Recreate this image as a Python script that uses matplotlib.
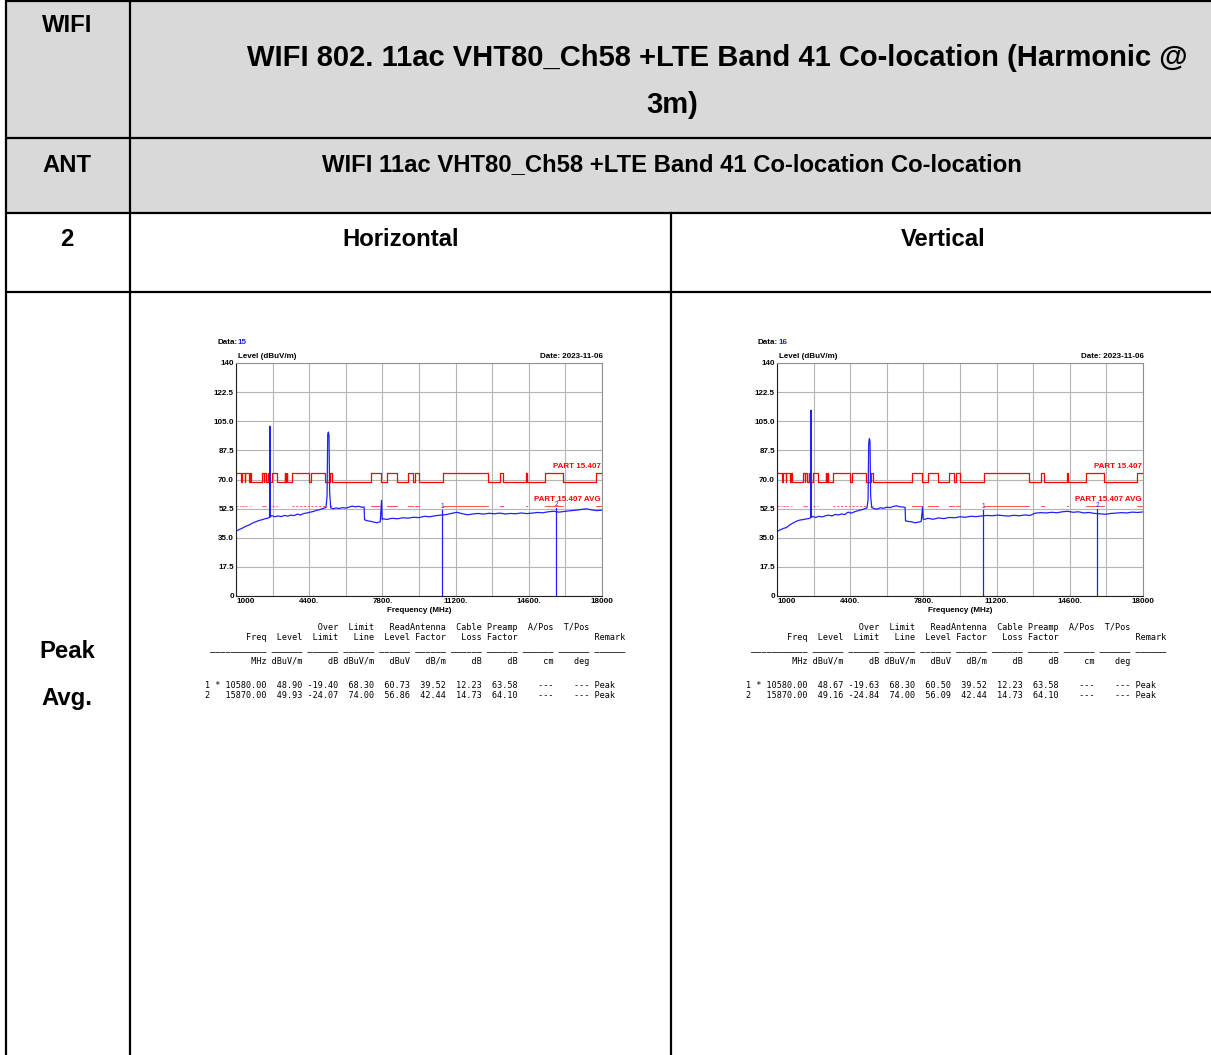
import matplotlib
matplotlib.use("Agg")
import matplotlib.pyplot as plt
import numpy as np

plt.rcParams['font.family'] = ['Liberation Sans', 'DejaVu Sans']

# ---- table text ----
title_line1 = "WIFI 802. 11ac VHT80_Ch58 +LTE Band 41 Co-location (Harmonic @"
title_line2 = "3m)"
subtitle = "WIFI 11ac VHT80_Ch58 +LTE Band 41 Co-location Co-location"
row_labels = ["WIFI", "ANT", "2"]
pol_labels = ["Horizontal", "Vertical"]
det_labels = ["Peak", "Avg."]

# ---- spectrum traces (MHz, dBuV/m) ----
freq = [1000, 1150, 1300, 1450, 1600, 1750, 1900, 2050, 2200, 2350, 2500, 2560,
        2578, 2596, 2650, 2800, 2950, 3100, 3250, 3400, 3550, 3700, 3850, 4000,
        4150, 4300, 4450, 4600, 4750, 4900, 5050, 5180, 5230, 5260, 5290, 5320,
        5350, 5400, 5500, 5650, 5800, 5950, 6100, 6250, 6400, 6550, 6700, 6850,
        6950, 6970, 7100, 7250, 7400, 7550, 7700, 7760, 7790, 7850, 8000, 8250,
        8500, 8750, 9000, 9250, 9500, 9750, 10000, 10250, 10500, 10750, 11000,
        11250, 11500, 11750, 12000, 12250, 12500, 12750, 13000, 13250, 13500,
        13750, 14000, 14250, 14500, 14750, 15000, 15250, 15500, 15750, 16000,
        16250, 16500, 16750, 17000, 17250, 17500, 17750, 18000]
level_h = [38.9, 40.0, 40.8, 41.9, 42.6, 43.7, 44.5, 45.3, 45.8, 46.4, 46.9, 47.2,
           102.0, 47.5, 48.3, 47.6, 48.1, 47.7, 48.4, 48.0, 48.6, 48.3, 49.2, 48.7,
           49.6, 49.9, 50.4, 50.8, 51.5, 51.9, 52.6, 53.2, 60.0, 97.0, 98.5, 96.5,
           62.0, 53.0, 52.4, 52.9, 52.6, 53.1, 52.8, 53.4, 54.0, 53.6, 53.9, 53.3,
           53.5, 45.8, 45.2, 44.9, 44.4, 44.0, 44.6, 57.5, 46.0, 46.4, 46.0, 46.7,
           46.4, 47.0, 46.8, 47.3, 47.1, 47.9, 47.6, 48.2, 48.6, 48.9, 49.6,
           50.3, 49.5, 48.8, 49.3, 49.6, 49.2, 49.7, 49.4, 49.8, 49.3,
           49.6, 49.4, 49.9, 49.5, 49.8, 50.2, 50.0, 50.6, 50.9, 50.4,
           50.8, 51.2, 51.5, 51.9, 52.4, 51.8, 51.3, 51.6]
level_v = [38.7, 39.8, 40.6, 41.2, 42.8, 43.9, 44.9, 45.6, 45.9, 46.3, 46.6, 47.0,
           111.6, 47.3, 47.8, 47.2, 47.9, 47.5, 48.2, 48.6, 48.1, 49.0, 48.7, 49.3,
           48.9, 50.4, 49.8, 50.6, 51.2, 51.7, 52.3, 53.0, 58.0, 92.0, 94.5, 93.0,
           60.0, 53.1, 52.6, 52.2, 53.0, 52.7, 53.4, 53.1, 53.8, 54.2, 53.6, 53.5,
           53.2, 45.2, 44.8, 44.6, 44.0, 44.3, 44.8, 53.5, 46.2, 46.0, 46.7, 46.1,
           46.9, 46.5, 47.2, 47.0, 47.6, 47.3, 47.9, 47.7, 48.1, 48.4, 48.2,
           48.6, 48.3, 48.0, 48.5, 48.2, 48.7, 48.4, 49.8, 50.1, 49.9,
           50.3, 50.0, 50.6, 50.9, 50.3, 50.6, 49.9, 50.2, 49.6, 49.4,
           49.1, 49.6, 49.8, 50.1, 49.9, 50.4, 50.2, 50.5]

# restricted bands (MHz) -> 74 dBuV/m peak / 54 dBuV/m avg, else 68.3
bands = [(960, 1240), (1300, 1427), (1435, 1626.5), (1660, 1710), (2200, 2300),
         (2310, 2390), (2483.5, 2500), (2690, 2900), (3260, 3267), (3332, 3339),
         (3345.8, 3358), (3600, 4400), (4500, 5150), (5350, 5460), (7250, 7750),
         (8025, 8500), (9000, 9200), (9300, 9500), (10600, 12700), (13250, 13400),
         (14470, 14500), (15350, 16200), (17700, 21400)]
lim_high, lim_low, lim_avg = 74.0, 68.3, 54.0

# marker tables
hdr1 = ["", "", "Over", "Limit", "Read", "Antenna", "Cable", "Preamp", "A/Pos", "T/Pos"]
hdr2 = ["Freq", "Level", "Limit", "Line", "Level", "Factor", "Loss", "Factor", "", ""]
units = ["MHz", "dBuV/m", "dB", "dBuV/m", "dBuV", "dB/m", "dB", "dB", "cm", "deg"]
mk_freq = [10580.00, 15870.00]
mk_level_h = [48.90, 49.93]
mk_over_h = [-19.40, -24.07]
mk_read_h = [60.73, 56.86]
mk_level_v = [48.67, 49.16]
mk_over_v = [-19.63, -24.84]
mk_read_v = [60.50, 56.09]
mk_limit = [68.30, 74.00]
mk_ant = [39.52, 42.44]
mk_cable = [12.23, 14.73]
mk_preamp = [63.58, 64.10]

charts = [
    dict(data_no="15", level=level_h, mk_level=mk_level_h, mk_over=mk_over_h,
         mk_read=mk_read_h, x0=0),
    dict(data_no="16", level=level_v, mk_level=mk_level_v, mk_over=mk_over_v,
         mk_read=mk_read_v, x0=541),
]

W, H = 1211, 1055
fig = plt.figure(figsize=(W / 100, H / 100), dpi=100)
bg = fig.add_axes([0, 0, 1, 1])
bg.set_xlim(0, W)
bg.set_ylim(H, 0)
bg.axis('off')

# grey header rows
bg.fill_between([6, W], 1, 213, color='#d9d9d9', lw=0)
lw_t = 1.6
for y in [1, 138, 213, 292]:
    bg.plot([6, W], [y, y], color='black', lw=lw_t, solid_capstyle='butt')
bg.plot([6, 6], [0, H], color='black', lw=lw_t)
bg.plot([130, 130], [0, H], color='black', lw=lw_t)
bg.plot([671, 671], [213, H], color='black', lw=lw_t)

fs_h = 17.2
fs_t = 21
bg.text(67, 26, row_labels[0], ha='center', va='center', fontsize=fs_h, weight='bold')
bg.text(67, 165, row_labels[1], ha='center', va='center', fontsize=fs_h, weight='bold')
bg.text(67, 239, row_labels[2], ha='center', va='center', fontsize=fs_h, weight='bold')
bg.text(717, 58, title_line1, ha='center', va='center', fontsize=fs_t, weight='bold')
bg.text(672, 105, title_line2, ha='center', va='center', fontsize=fs_t, weight='bold')
bg.text(672, 165, subtitle, ha='center', va='center', fontsize=fs_h, weight='bold')
bg.text(401, 239, pol_labels[0], ha='center', va='center', fontsize=fs_h, weight='bold')
bg.text(943, 239, pol_labels[1], ha='center', va='center', fontsize=fs_h, weight='bold')
bg.text(67, 652, det_labels[0], ha='center', va='center', fontsize=fs_h, weight='bold')
bg.text(67, 699, det_labels[1], ha='center', va='center', fontsize=fs_h, weight='bold')

# limit step line
lim_x, lim_y = [1000], [lim_high]
for lo, hi in bands:
    lo_c, hi_c = max(lo, 1000), min(hi, 18000)
    if hi_c <= 1000:
        continue
    if lo_c > 1000:
        lim_x += [lo_c, lo_c]
        lim_y += [lim_low, lim_high]
    lim_x += [hi_c, hi_c]
    lim_y += [lim_high, lim_low if hi < 18000 else lim_high]
lim_x.append(18000)
lim_y.append(lim_y[-1])

widths = [12, 7, 7, 7, 7, 7, 7, 7, 7, 7]
def row(cells):
    return "".join(str(c).rjust(w) for c, w in zip(cells, widths))

mono = dict(family='DejaVu Sans Mono', fontsize=6.1, va='center', ha='left')
blue = '#2020ff'
red = '#ff0000'
fs_c = 5.8

for ch in charts:
    x0 = ch['x0']
    ax = fig.add_axes([(236 + x0) / W, 1 - 596 / H, 366 / W, 233 / H])
    ax.set_xlim(1000, 18000)
    ax.set_ylim(0, 140)
    ax.set_xticks(np.arange(1000, 18001, 1700), minor=True)
    ax.set_xticks([1000, 4400, 7800, 11200, 14600, 18000])
    ax.set_xticklabels(["1000", "4400.", "7800.", "11200.", "14600.", "18000"],
                       fontsize=fs_c, weight='bold')
    ax.get_xticklabels()[0].set_horizontalalignment('left')
    ax.set_yticks(np.arange(0, 140.1, 17.5))
    ax.set_yticklabels(["0", "17.5", "35.0", "52.5", "70.0", "87.5", "105.0",
                        "122.5", "140"], fontsize=fs_c, weight='bold')
    ax.tick_params(which='both', length=0, pad=1.5)
    ax.grid(which='both', color='#b4b4b4', lw=0.8)
    ax.set_axisbelow(True)
    for s in ax.spines.values():
        s.set_color('#909090')
        s.set_linewidth(0.8)
    ax.spines['left'].set_color('#202020')
    ax.spines['bottom'].set_color('#202020')

    ax.plot(lim_x, lim_y, color=red, lw=0.9)
    for lo, hi in bands:
        lo_c, hi_c = max(lo, 1000), min(hi, 18000)
        if hi_c <= lo_c:
            continue
        ls = (0, (2, 2)) if hi < 7000 else '-'
        ax.plot([lo_c, hi_c], [lim_avg, lim_avg], color='#ff5555', lw=0.7, ls=ls)
    ax.text(17950, 76, "PART 15.407", color=red, fontsize=fs_c, weight='bold',
            ha='right', va='bottom')
    ax.text(17950, 56, "PART 15.407 AVG", color=red, fontsize=fs_c, weight='bold',
            ha='right', va='bottom')

    ax.plot(freq, ch['level'], color=blue, lw=0.9)
    for i, (f, lv) in enumerate(zip(mk_freq, ch['mk_level'])):
        ax.plot([f, f], [0, lv + 3], color=blue, lw=0.9)
        ax.text(f, lv + 3, str(i + 1), color=blue, fontsize=4.8, ha='center', va='bottom')

    bg.text(217 + x0, 343, "Data:", fontsize=fs_c, weight='bold', va='center')
    bg.text(237 + x0, 343, ch['data_no'], fontsize=fs_c, weight='bold', va='center',
            color=blue)
    bg.text(238 + x0, 357, "Level (dBuV/m)", fontsize=fs_c, weight='bold', va='center')
    bg.text(603 + x0, 356, "Date: 2023-11-06", fontsize=fs_c, weight='bold',
            va='center', ha='right')
    bg.text(419 + x0, 611, "Frequency (MHz)", fontsize=fs_c, weight='bold',
            va='center', ha='center')

    # marker table
    tx = 205 + x0
    bg.text(tx, 627, row(hdr1), **mono)
    bg.text(tx, 638, row(hdr2) + " Remark", **mono)
    under = "".join(("_" * (w - 1)).rjust(w) for w in widths) + " " + "_" * 6
    bg.text(tx, 648, under, **mono)
    bg.text(tx, 661, row(units), **mono)
    for i in range(2):
        lead = f"{i + 1} {'*' if i == 0 else ' '} {mk_freq[i]:.2f}"
        cells = [lead, f"{ch['mk_level'][i]:.2f}", f"{ch['mk_over'][i]:.2f}",
                 f"{mk_limit[i]:.2f}", f"{ch['mk_read'][i]:.2f}", f"{mk_ant[i]:.2f}",
                 f"{mk_cable[i]:.2f}", f"{mk_preamp[i]:.2f}", "---", "---"]
        bg.text(tx, 685 + 11 * i, row(cells) + " Peak", **mono)

fig.savefig("out.png", dpi=100, facecolor='white')
